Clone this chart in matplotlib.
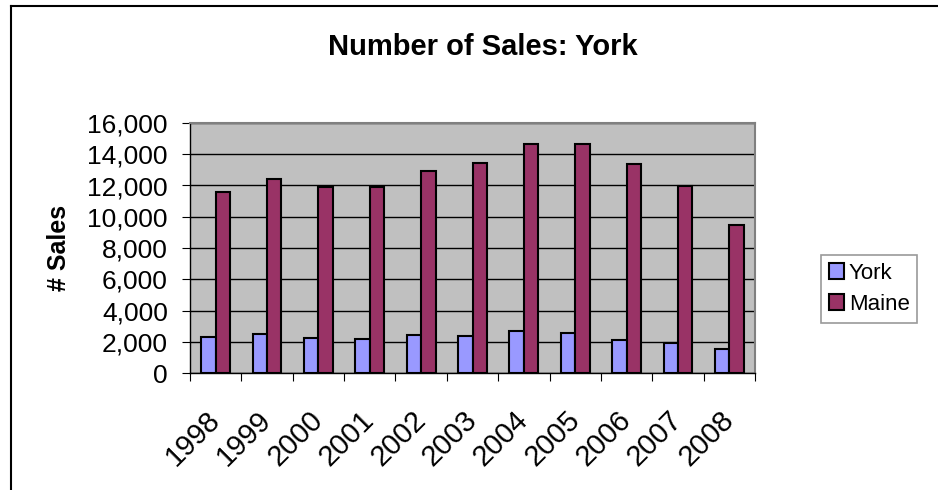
import numpy as np
import matplotlib.pyplot as plt
from matplotlib.lines import Line2D
from matplotlib.ticker import FuncFormatter

plt.rcParams['font.family'] = ['Liberation Sans', 'DejaVu Sans']

years = ["1998", "1999", "2000", "2001", "2002", "2003",
         "2004", "2005", "2006", "2007", "2008"]
york = [2280, 2500, 2250, 2200, 2450, 2390, 2670, 2540, 2110, 1900, 1510]
maine = [11600, 12420, 11880, 11930, 12900, 13440, 14660, 14660, 13380, 11990, 9470]

fig = plt.figure(figsize=(9.38, 4.90), dpi=100)
ax = fig.add_axes([190 / 938, 1 - 373 / 490, 565 / 938, 250 / 490])
ax.set_facecolor("#C0C0C0")

x = np.arange(len(years))
w = 0.28
ax.bar(x - w / 2, york, w, color="#9999FF", edgecolor="black", linewidth=1.5,
       label="York", zorder=3)
ax.bar(x + w / 2, maine, w, color="#993366", edgecolor="black", linewidth=1.5,
       label="Maine", zorder=3)

ax.set_xlim(-0.5, len(years) - 0.5)
ax.set_ylim(0, 16000)
ax.set_yticks(np.arange(0, 16001, 2000))
ax.yaxis.set_major_formatter(FuncFormatter(lambda v, p: f"{int(v):,}"))
ax.yaxis.grid(True, color="black", linewidth=1, zorder=0)
ax.set_axisbelow(True)

# ticks between the categories, labels in the middle
ax.set_xticks(np.arange(-0.5, len(years), 1.0))
ax.set_xticklabels([])
ax.set_xticks(x, minor=True)
ax.set_xticklabels(years, minor=True, rotation=45, ha="right", va="center",
                   rotation_mode="anchor", fontsize=21)
ax.tick_params(axis="x", which="minor", length=0, pad=31)
ax.tick_params(axis="x", which="major", length=6, direction="out")
ax.tick_params(axis="y", length=6, direction="out", labelsize=19, pad=10)

for s in ["top", "right"]:
    ax.spines[s].set_color("#808080")
    ax.spines[s].set_linewidth(1.5)
for s in ["left", "bottom"]:
    ax.spines[s].set_color("black")
    ax.spines[s].set_linewidth(1)

fig.text(483 / 938, 1 - 47 / 490, "Number of Sales: York", ha="center",
         va="center", fontsize=21, fontweight="bold")
fig.text(59 / 938, 1 - 248 / 490, "# Sales", ha="center", va="center",
         rotation=90, fontsize=18, fontweight="bold")

leg = ax.legend(loc="center left", bbox_to_anchor=(821 / 938, 1 - 289 / 490),
                bbox_transform=fig.transFigure, fontsize=16, frameon=True,
                fancybox=False, edgecolor="#808080", handlelength=0.7,
                handleheight=0.7, handletextpad=0.2, borderpad=0.35,
                labelspacing=0.45, borderaxespad=0)
leg.get_frame().set_linewidth(1.2)

# outer chart border (left and top)
fig.add_artist(Line2D([11 / 938, 11 / 938], [0, 1 - 6 / 490], color="black",
                      linewidth=1.5, transform=fig.transFigure))
fig.add_artist(Line2D([11 / 938, 1], [1 - 6 / 490, 1 - 6 / 490], color="black",
                      linewidth=1.5, transform=fig.transFigure))

fig.savefig("out.png", dpi=100)
